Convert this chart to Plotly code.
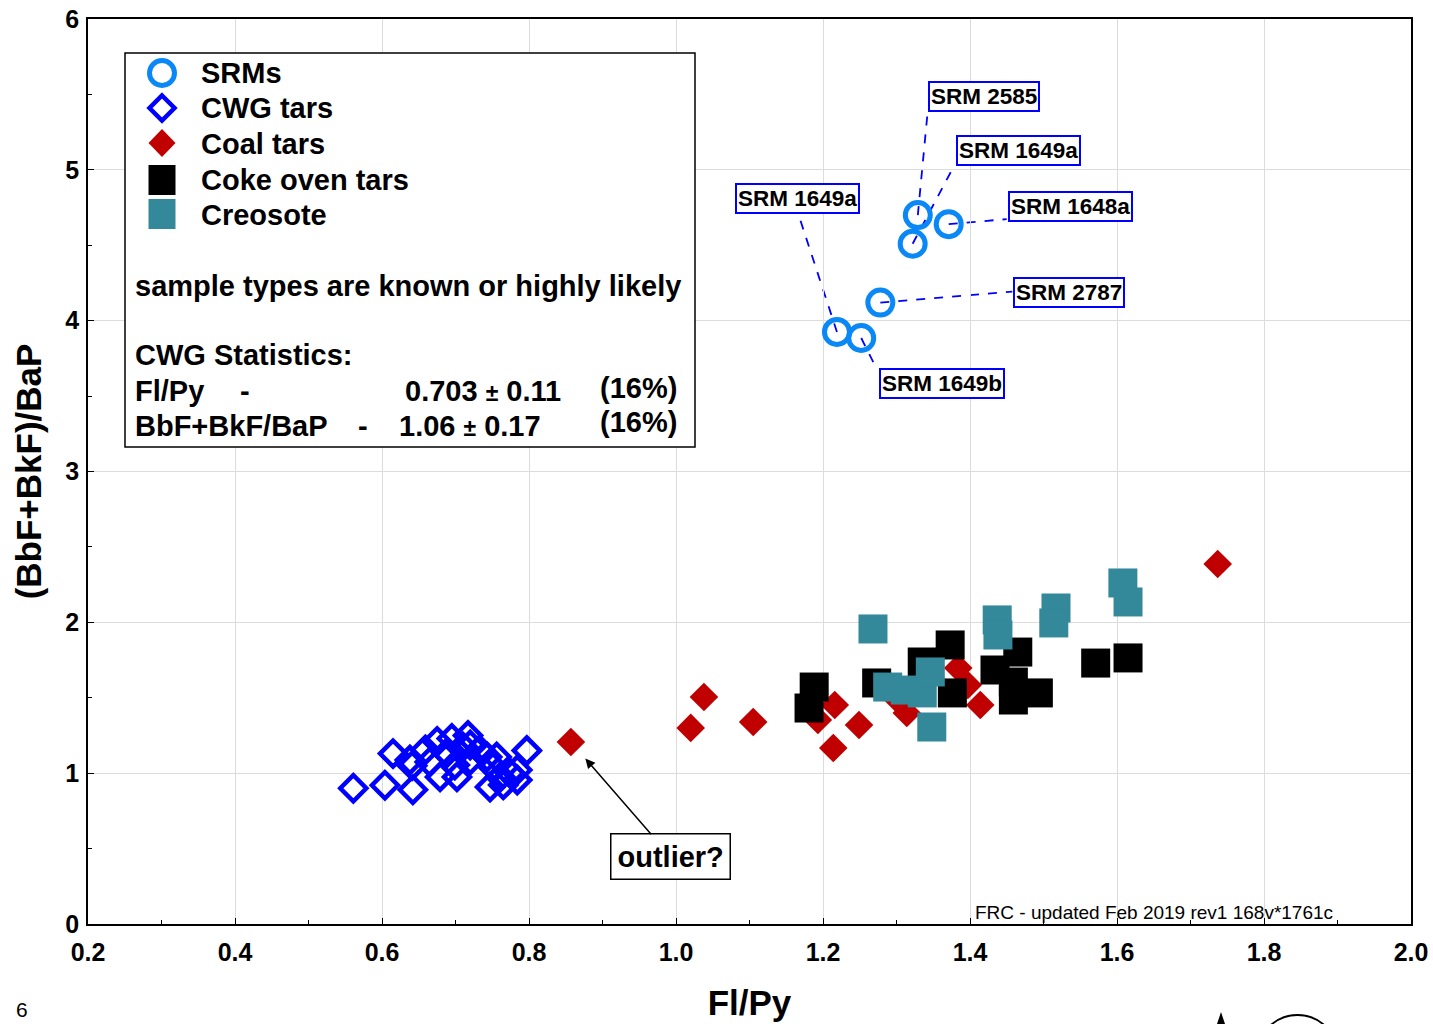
import plotly.graph_objects as go

# ---------------- data ----------------
srm_x = [1.329, 1.322, 1.371, 1.278, 1.219, 1.252]
srm_y = [4.70, 4.51, 4.64, 4.12, 3.925, 3.885]
srm_labels = ["SRM 2585", "SRM 1649a", "SRM 1648a", "SRM 2787", "SRM 1649a", "SRM 1649b"]

cwg_x = [0.561, 0.604, 0.615, 0.642, 0.641, 0.675, 0.695, 0.717, 0.797, 0.665,
         0.679, 0.702, 0.720, 0.733, 0.751, 0.761, 0.774, 0.784, 0.747, 0.765,
         0.638, 0.688, 0.710, 0.743, 0.756, 0.784, 0.659, 0.699, 0.720]
cwg_y = [0.90, 0.92, 1.13, 0.89, 1.05, 1.21, 1.23, 1.25, 1.15, 1.074,
         0.975, 0.975, 1.087, 1.154, 1.041, 0.975, 1.001, 1.021, 0.908, 0.922,
         1.087, 1.134, 1.174, 1.107, 1.107, 0.955, 1.154, 1.054, 1.187]

coal_x = [0.857, 1.038, 1.020, 1.105, 1.193, 1.216, 1.249, 1.214, 1.302, 1.314,
          1.384, 1.397, 1.414, 1.737]
coal_y = [1.207, 1.505, 1.300, 1.339, 1.353, 1.452, 1.319, 1.167, 1.485, 1.399,
          1.697, 1.585, 1.452, 2.387]

coke_x = [1.188, 1.181, 1.273, 1.335, 1.373, 1.376, 1.434, 1.465, 1.459, 1.459,
          1.493, 1.571, 1.615]
coke_y = [1.571, 1.432, 1.598, 1.737, 1.850, 1.532, 1.684, 1.803, 1.604, 1.485,
          1.532, 1.730, 1.764]

creo_x = [1.268, 1.288, 1.312, 1.335, 1.346, 1.348, 1.437, 1.438, 1.517, 1.514,
          1.608, 1.615]
creo_y = [1.956, 1.571, 1.551, 1.532, 1.671, 1.306, 2.016, 1.916, 2.095, 1.996,
          2.261, 2.135]

legend_names = ["SRMs", "CWG tars", "Coal tars", "Coke oven tars", "Creosote"]

# ---------------- styles ----------------
FONT = "Liberation Sans, Arial, sans-serif"
C_SRM = "#0a88f5"
C_CWG = "#0000ff"
C_COAL = "#c00000"
C_COKE = "#000000"
C_CREO = "#33889a"

W, H = 1433, 1024
L, R, T, B = 88, 22, 19, 100
PW, PH = W - L - R, H - T - B


def px(xp):
    return (xp - L) / PW


def py(yp):
    return (H - B - yp) / PH


fig = go.Figure()

fig.add_trace(go.Scatter(x=cwg_x, y=cwg_y, mode="markers", name=legend_names[1],
                         marker=dict(symbol="diamond-open", size=20, color=C_CWG,
                                     line=dict(width=4.5, color=C_CWG))))
fig.add_trace(go.Scatter(x=coal_x, y=coal_y, mode="markers", name=legend_names[2],
                         marker=dict(symbol="diamond", size=22, color=C_COAL,
                                     line=dict(width=0))))
fig.add_trace(go.Scatter(x=coke_x, y=coke_y, mode="markers", name=legend_names[3],
                         marker=dict(symbol="square", size=29, color=C_COKE,
                                     line=dict(width=0))))
fig.add_trace(go.Scatter(x=creo_x, y=creo_y, mode="markers", name=legend_names[4],
                         marker=dict(symbol="square", size=29, color=C_CREO,
                                     line=dict(width=0))))
fig.add_trace(go.Scatter(x=srm_x, y=srm_y, mode="markers", name=legend_names[0],
                         marker=dict(symbol="circle-open", size=25, color=C_SRM,
                                     line=dict(width=5, color=C_SRM))))

shapes = []
annotations = []

# SRM labels: (box centre offset, line end offset) in pixels, screen y down
label_offsets = [
    ((66.5, -119), (10, -105)),
    ((106, -93), (42, -79)),
    ((121.5, -18), (58, -5)),
    ((189, -10.5), (132, -11)),
    ((-39.5, -133), (-39, -119)),
    ((80.5, 45.5), (15, 30)),
]
for xv, yv, lab, (box, lend) in zip(srm_x, srm_y, srm_labels, label_offsets):
    shapes.append(dict(type="line", xref="x", yref="y", xsizemode="pixel", ysizemode="pixel",
                       xanchor=xv, yanchor=yv, x0=0, y0=0, x1=lend[0], y1=-lend[1],
                       line=dict(color=C_CWG, width=1.8, dash="dash"), layer="below"))
    annotations.append(dict(x=xv, y=yv, xref="x", yref="y", text=lab, showarrow=False,
                            xshift=box[0], yshift=-box[1],
                            font=dict(family=FONT, size=22.5, color="black", weight="bold"),
                            bgcolor="white", bordercolor=C_CWG, borderwidth=2, borderpad=1))

# outlier annotation
annotations.append(dict(x=coal_x[0], y=coal_y[0], xref="x", yref="y", text="outlier?",
                        showarrow=True, ax=100, ay=115, arrowhead=2, arrowsize=1.3,
                        arrowwidth=1.5, arrowcolor="black", standoff=22,
                        font=dict(family=FONT, size=29, color="black", weight="bold"),
                        bgcolor="white", bordercolor="black", borderwidth=1.5, borderpad=6))

# custom legend box
shapes.append(dict(type="rect", xref="paper", yref="paper", x0=px(125), x1=px(695),
                   y0=py(447), y1=py(53), line=dict(color="black", width=1.5),
                   fillcolor="white", layer="above"))
lx = px(162)
shapes.append(dict(type="circle", xref="paper", yref="paper", xsizemode="pixel", ysizemode="pixel",
                   xanchor=lx, yanchor=py(73), x0=-12.5, x1=12.5, y0=-12.5, y1=12.5,
                   line=dict(color=C_SRM, width=5), layer="above"))
shapes.append(dict(type="path", xref="paper", yref="paper", xsizemode="pixel", ysizemode="pixel",
                   xanchor=lx, yanchor=py(108), path="M 0,12.5 L 12.5,0 L 0,-12.5 L -12.5,0 Z",
                   line=dict(color=C_CWG, width=4.5), layer="above"))
shapes.append(dict(type="path", xref="paper", yref="paper", xsizemode="pixel", ysizemode="pixel",
                   xanchor=lx, yanchor=py(143), path="M 0,14 L 13.5,0 L 0,-14 L -13.5,0 Z",
                   fillcolor=C_COAL, line=dict(width=0), layer="above"))
shapes.append(dict(type="rect", xref="paper", yref="paper", xsizemode="pixel", ysizemode="pixel",
                   xanchor=lx, yanchor=py(180), x0=-13.5, x1=13.5, y0=-15, y1=15,
                   fillcolor=C_COKE, line=dict(width=0), layer="above"))
shapes.append(dict(type="rect", xref="paper", yref="paper", xsizemode="pixel", ysizemode="pixel",
                   xanchor=lx, yanchor=py(214), x0=-13.5, x1=13.5, y0=-15, y1=15,
                   fillcolor=C_CREO, line=dict(width=0), layer="above"))

bold29 = dict(family=FONT, size=29, color="black", weight="bold")
for name, yy in zip(legend_names, [73, 108, 144, 180, 215]):
    annotations.append(dict(x=px(199), y=py(yy), xref="paper", yref="paper", text=name,
                            showarrow=False, xanchor="left", yanchor="middle", font=bold29))

pm = '<span style="font-size:23px">±</span>'
text_items = [
    ("sample types are known or highly likely", 133, 286, "left"),
    ("CWG Statistics:", 133, 355, "left"),
    ("Fl/Py", 133, 391, "left"),
    ("-", 245, 391, "center"),
    ("0.703 " + pm + " 0.11", 403, 391, "left"),
    ("(16%)", 598, 388, "left"),
    ("BbF+BkF/BaP", 133, 426, "left"),
    ("-", 363, 426, "center"),
    ("1.06 " + pm + " 0.17", 397, 426, "left"),
    ("(16%)", 598, 422, "left"),
]
for txt, xx, yy, anc in text_items:
    annotations.append(dict(x=px(xx), y=py(yy), xref="paper", yref="paper", text=txt,
                            showarrow=False, xanchor=anc, yanchor="middle", font=bold29))

# footnote texts
annotations.append(dict(x=px(973), y=py(912), xref="paper", yref="paper",
                        text="FRC - updated Feb 2019 rev1 168v*1761c", showarrow=False,
                        xanchor="left", yanchor="middle",
                        font=dict(family=FONT, size=19, color="black")))
annotations.append(dict(x=px(22), y=py(1009), xref="paper", yref="paper", text="6",
                        showarrow=False, xanchor="center", yanchor="middle",
                        font=dict(family=FONT, size=21, color="black")))

# partial logo at the bottom edge
shapes.append(dict(type="path", xref="paper", yref="paper", xsizemode="pixel", ysizemode="pixel",
                   xanchor=px(1221), yanchor=py(1024), path="M -4,0 L 0,12 L 4,0 Z",
                   fillcolor="black", line=dict(width=0), layer="above"))
shapes.append(dict(type="circle", xref="paper", yref="paper", xsizemode="pixel", ysizemode="pixel",
                   xanchor=px(1297.5), yanchor=py(1055.5), x0=-40.5, x1=40.5, y0=-40.5, y1=40.5,
                   line=dict(color="black", width=2), layer="above"))

tickfont = dict(family=FONT, size=25, color="black", weight="bold")
fig.update_layout(
    width=W, height=H,
    margin=dict(l=L, r=R, t=T, b=B, autoexpand=False),
    paper_bgcolor="white", plot_bgcolor="white",
    showlegend=False,
    shapes=shapes, annotations=annotations,
    xaxis=dict(range=[0.2, 2.0], tick0=0.2, dtick=0.2, tickformat=".1f",
               showgrid=True, gridcolor="#dcdcdc", gridwidth=1, zeroline=False,
               showline=True, linecolor="black", linewidth=1.5, mirror=True,
               ticks="inside", ticklen=6, tickcolor="black", tickwidth=1.2,
               minor=dict(dtick=0.1, ticks="inside", ticklen=4, tickcolor="black", showgrid=False),
               tickfont=tickfont, automargin=False, ticklabelstandoff=5,
               title=dict(text="Fl/Py", font=dict(family=FONT, size=35, color="black", weight="bold"),
                          standoff=26)),
    yaxis=dict(range=[0, 6], dtick=1, showgrid=True, gridcolor="#dcdcdc", gridwidth=1,
               zeroline=False, showline=True, linecolor="black", linewidth=1.5, mirror=True,
               ticks="inside", ticklen=6, tickcolor="black", tickwidth=1.2,
               minor=dict(dtick=0.5, ticks="inside", ticklen=4, tickcolor="black", showgrid=False),
               tickfont=tickfont, automargin=False, ticklabelstandoff=2,
               title=dict(text="(BbF+BkF)/BaP",
                          font=dict(family=FONT, size=35, color="black", weight="bold"),
                          standoff=13)),
)

fig.write_html("out.html", config={"displayModeBar": False},
               post_script="document.body.style.margin='0';")
